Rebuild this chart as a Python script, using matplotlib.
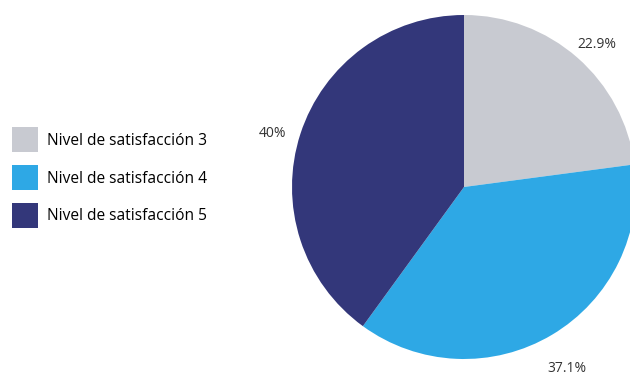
import matplotlib
matplotlib.use("Agg")
import matplotlib.pyplot as plt
import numpy as np

# satisfaction share per level
categories = ["Nivel de satisfacción 3", "Nivel de satisfacción 4", "Nivel de satisfacción 5"]
shares = [22.9, 37.1, 40.0]
labels = ["22.9%", "37.1%", "40%"]
colors = ["#c8cad1", "#2ea8e5", "#33377a"]

plt.rcParams["font.family"] = ["Open Sans", "DejaVu Sans"]

W, H = 630, 376
fig = plt.figure(figsize=(W / 100, H / 100), dpi=100)

cx, cy, r = 464, 187, 172
ax = fig.add_axes([(cx - r) / W, (H - cy - r) / H, 2 * r / W, 2 * r / H])
ax.axis("off")

wedges, _ = ax.pie(shares, colors=colors, startangle=90, counterclock=False,
                   radius=1, wedgeprops=dict(linewidth=0))
ax.set_xlim(-1, 1)
ax.set_ylim(-1, 1)

# percentage labels outside each slice, nudged a little downward
for w, lab in zip(wedges, labels):
    mid = np.deg2rad((w.theta1 + w.theta2) / 2)
    ax.text(1.17 * np.cos(mid), 1.17 * np.sin(mid) - 0.05, lab, ha="center", va="center",
            fontsize=10, color="#333333", clip_on=False)

fig.legend(wedges, categories, loc="upper left", bbox_to_anchor=(12 / W, 1 - 127 / H),
           frameon=False, fontsize=11.2, handlelength=1.67, handleheight=2.14,
           handletextpad=0.58, labelspacing=0.8, borderaxespad=0, borderpad=0)

fig.savefig("out.png", dpi=100)
